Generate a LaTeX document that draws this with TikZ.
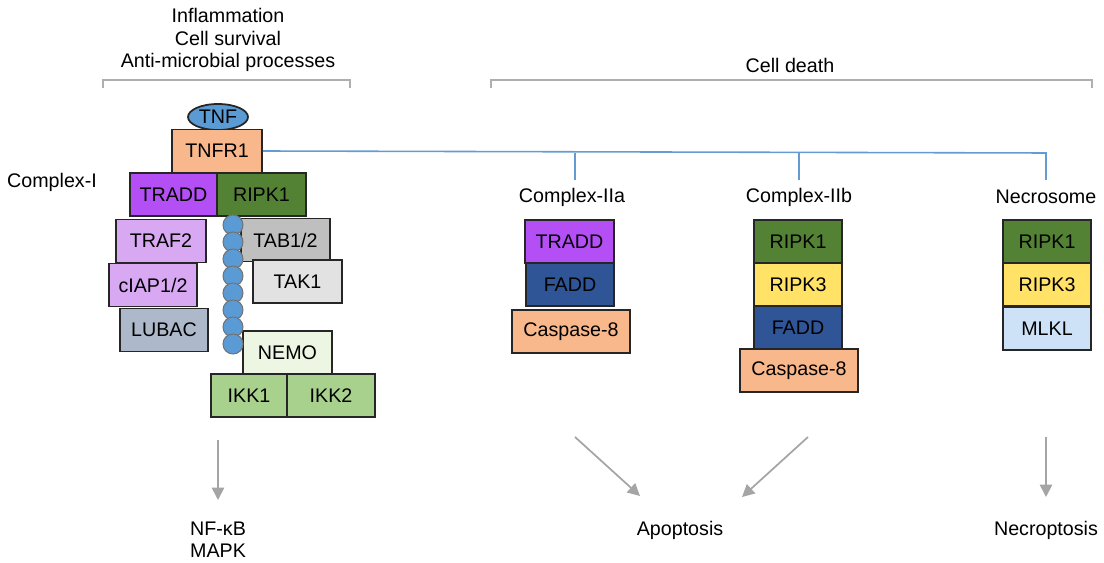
\documentclass[tikz,border=0pt]{standalone}
\usepackage{fontspec}
\setmainfont{Liberation Sans}
\usepackage{tikz}
\usetikzlibrary{positioning,shapes.geometric,arrows.meta}
\tikzstyle{canvas} = [x = 0.02cm, y = -0.02cm, font=\fontsize{11.2}{12.6}\selectfont]
\definecolor{tnfBlue}{RGB}{91,155,213}
\definecolor{linkBlue}{RGB}{100,155,210}
\definecolor{peach}{RGB}{248,184,139}
\definecolor{traddPurple}{RGB}{180,78,245}
\definecolor{ripkGreen}{RGB}{84,130,53}
\definecolor{lilac}{RGB}{216,168,243}
\definecolor{lubacGray}{RGB}{173,185,202}
\definecolor{tabGray}{RGB}{191,191,191}
\definecolor{takGray}{RGB}{226,226,226}
\definecolor{nemoGreen}{RGB}{236,246,226}
\definecolor{ikkGreen}{RGB}{169,209,142}
\definecolor{faddBlue}{RGB}{47,85,151}
\definecolor{ripkYellow}{RGB}{255,226,102}
\definecolor{mlklBlue}{RGB}{206,226,247}
\definecolor{frameGray}{RGB}{175,175,175}
\definecolor{arrowGray}{RGB}{165,165,165}
\tikzstyle{proteinStyle} = [draw=black!85, line width=1pt, rectangle, minimum height=43*0.02cm, inner sep=0pt]
\tikzstyle{beadStyle} = [circle, draw=black!55, fill=tnfBlue, minimum size=20*0.02cm, inner sep=0pt, line width=0.6pt]
\tikzstyle{bracketLine} = [color=frameGray, line width=1.6pt]
\tikzstyle{linkLine} = [color=linkBlue, line width=0.9pt]
\tikzstyle{fateArrow} = [color=arrowGray, line width=1pt, -{Triangle[width=7pt,length=7pt]}]
\tikzstyle{label} = [align=center, inner sep=0pt]
\newcommand{\protein}[6]{\node [proteinStyle, fill=#5, minimum width=#4*0.02cm] (#1) at (#2,#3) {#6};}
\newcommand{\bracketAbove}[2]{\draw [bracketLine] (#1,88) -- (#1,80) -- (#2,80) -- (#2,88);}

\begin{document}
\begin{tikzpicture}[canvas]
  \useasboundingbox (0,0) rectangle (1104,563);
  \bracketAbove{103}{350}
  \bracketAbove{491}{1092}
  \node [label] (survival) at (228,40) {Inflammation\\Cell survival\\Anti-microbial processes};
  \node [label] (death) at (790,65) {Cell death};

  \node [ellipse, draw=black!85, line width=1pt, fill=tnfBlue, minimum width=60*0.02cm, minimum height=26*0.02cm, inner sep=0pt] (tnf) at (218,117) {TNF};
  \protein{tnfr}{217}{151}{90}{peach}{TNFR1}
  \protein{traddI}{173.5}{194.5}{87}{traddPurple}{TRADD}
  \protein{ripkI}{261.5}{194.5}{89}{ripkGreen}{RIPK1}
  \protein{traf}{161}{241}{90}{lilac}{TRAF2}
  \protein{ciap}{153}{285}{88}{lilac}{cIAP1/2}
  \protein{lubac}{164}{330}{88}{lubacGray}{LUBAC}
  \protein{tab}{285.5}{240}{89}{tabGray}{TAB1/2}
  \protein{tak}{297.5}{281.5}{89}{takGray}{TAK1}
  \protein{nemo}{287.5}{352.5}{89}{nemoGreen}{NEMO}
  \protein{ikkA}{249}{395.5}{76}{ikkGreen}{IKK1}
  \protein{ikkB}{331}{395.5}{88}{ikkGreen}{IKK2}
  \foreach \bead in {0,...,7} {
    \node [beadStyle] (bead\bead) at (233,225+17*\bead) {};
  }
  \node [label] (complexI) at (52,182) {Complex-I};

  \coordinate (tIIa) at (575,153);
  \coordinate (tIIb) at (799,153);
  \coordinate (tNec) at (1046,153);
  \draw [linkLine] (tnfr.east) -- (tNec) -- (1046,180);
  \draw [linkLine] (tIIa) -- (575,180);
  \draw [linkLine] (tIIb) -- (799,180);

  \node [label] (complexIIa) at (572,197) {Complex-IIa};
  \protein{traddIIa}{569.5}{241.5}{89}{traddPurple}{TRADD}
  \protein{faddIIa}{570}{284.5}{88}{faddBlue}{FADD}
  \protein{caspIIa}{571}{331.5}{118}{peach}{Caspase-8}

  \node [label] (complexIIb) at (799,197) {Complex-IIb};
  \protein{ripkIIb}{798}{241.5}{88}{ripkGreen}{RIPK1}
  \protein{ripkIIIb}{798}{284.5}{88}{ripkYellow}{RIPK3}
  \protein{faddIIb}{798}{327.5}{88}{faddBlue}{FADD}
  \protein{caspIIb}{799}{370.5}{118}{peach}{Caspase-8}

  \node [label] (necrosome) at (1046,197) {Necrosome};
  \protein{ripkNec}{1047}{241.5}{88}{ripkGreen}{RIPK1}
  \protein{ripkIIINec}{1047}{284.5}{88}{ripkYellow}{RIPK3}
  \protein{mlkl}{1047}{328.5}{88}{mlklBlue}{MLKL}

  \node [label] (nfkb) at (218,540) {NF-κB\\MAPK};
  \node [label] (apoptosis) at (680,530) {Apoptosis};
  \node [label] (necroptosis) at (1046,530) {Necroptosis};
  \coordinate (fromI) at (218,440);
  \coordinate (fromIIa) at (575,437);
  \coordinate (fromIIb) at (808,437);
  \coordinate (fromNec) at (1046,437);
  \draw [fateArrow] (fromI) -- (218,500);
  \draw [fateArrow] (fromIIa) -- (640,496);
  \draw [fateArrow] (fromIIb) -- (742,497);
  \draw [fateArrow] (fromNec) -- (1046,497);
\end{tikzpicture}
\end{document}
